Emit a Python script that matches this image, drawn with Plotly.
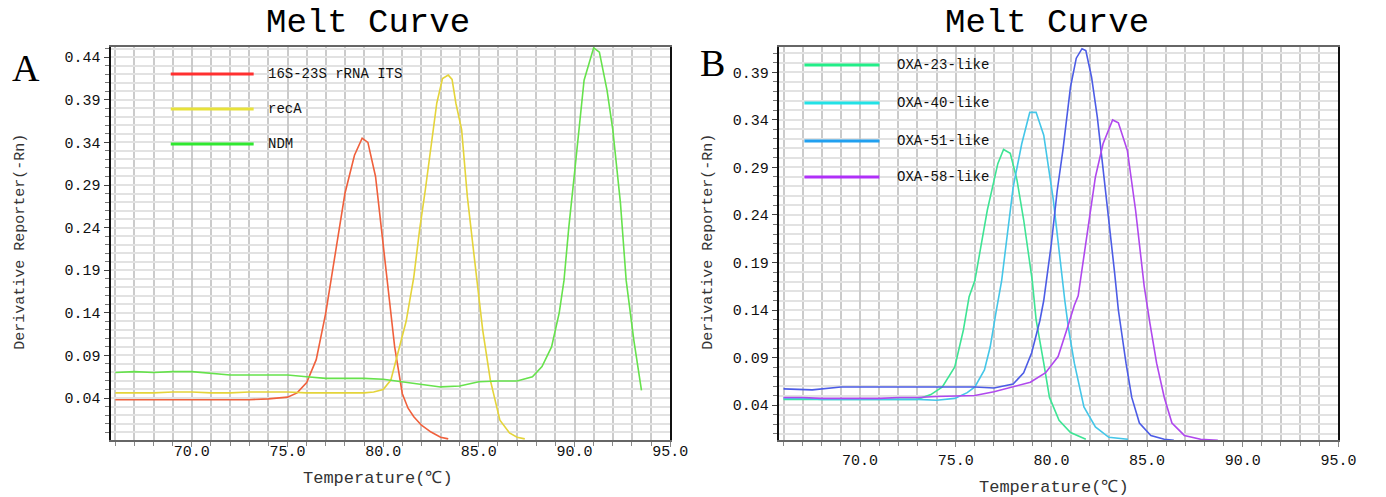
import plotly.graph_objects as go

# ---------------- Panel A data ----------------
a_its_t = [66, 67, 68, 69, 70, 71, 72, 73, 74, 75, 75.5, 76, 76.5, 77, 77.5, 78, 78.5, 78.9, 79.2, 79.6,
           80, 80.3, 80.6, 81, 81.3, 81.6, 82, 82.5, 83, 83.4]
a_its_v = [0.038, 0.038, 0.038, 0.038, 0.038, 0.038, 0.038, 0.038, 0.039, 0.041, 0.046, 0.058, 0.085, 0.14,
           0.21, 0.28, 0.325, 0.345, 0.34, 0.30, 0.22, 0.16, 0.10, 0.045, 0.028, 0.018, 0.008, 0.0, -0.006, -0.008]

a_reca_t = [66, 67, 68, 69, 70, 71, 72, 73, 74, 75, 76, 77, 78, 79, 79.5, 80, 80.4, 80.8, 81.2, 81.6, 81.9,
            82.2, 82.5, 82.8, 83.1, 83.4, 83.6, 83.8, 84.1, 84.4, 84.7, 85.0, 85.2, 85.6, 86.1, 86.6, 87.0, 87.4]
a_reca_v = [0.046, 0.046, 0.046, 0.047, 0.047, 0.046, 0.046, 0.047, 0.047, 0.047, 0.046, 0.046, 0.046, 0.046,
            0.047, 0.050, 0.061, 0.096, 0.13, 0.182, 0.237, 0.284, 0.335, 0.386, 0.415, 0.419, 0.414, 0.386,
            0.355, 0.276, 0.217, 0.16, 0.12, 0.061, 0.014, -0.001, -0.006, -0.008]

a_ndm_t = [66, 67, 68, 69, 70, 71, 72, 73, 74, 75, 76, 77, 78, 79, 80, 81, 82, 83, 84, 85, 86, 87, 87.8,
           88.3, 88.8, 89.2, 89.45, 89.7, 90.0, 90.5, 91.0, 91.3, 91.7, 92.0, 92.4, 92.7, 93.1, 93.5]
a_ndm_v = [0.070, 0.071, 0.070, 0.071, 0.071, 0.069, 0.067, 0.067, 0.067, 0.067, 0.065, 0.063, 0.063, 0.063,
           0.062, 0.059, 0.056, 0.053, 0.054, 0.059, 0.060, 0.060, 0.065, 0.077, 0.10, 0.14, 0.178, 0.24,
           0.304, 0.413, 0.451, 0.446, 0.401, 0.355, 0.269, 0.178, 0.108, 0.049]

# ---------------- Panel B data ----------------
b_oxa23_t = [66, 67, 68, 69, 70, 71, 72, 73, 73.7, 74.3, 74.95, 75.4, 75.7, 76.0, 76.65, 77.2, 77.5, 77.85,
             78.2, 78.55, 79.0, 79.2, 79.6, 79.9, 80.4, 81.0, 81.8]
b_oxa23_v = [0.046, 0.046, 0.046, 0.046, 0.046, 0.046, 0.046, 0.046, 0.051, 0.059, 0.080, 0.119, 0.154,
             0.171, 0.245, 0.294, 0.309, 0.305, 0.277, 0.235, 0.171, 0.13, 0.084, 0.048, 0.024, 0.011, 0.004]

b_oxa40_t = [66, 67, 68, 69, 70, 71, 72, 73, 74, 74.95, 75.6, 76.0, 76.5, 76.8, 77.1, 77.4, 78.0, 78.45,
             78.87, 79.2, 79.6, 80.1, 80.7, 80.9, 81.2, 81.7, 82.3, 83.0, 84.0]
b_oxa40_v = [0.047, 0.047, 0.046, 0.046, 0.046, 0.046, 0.046, 0.046, 0.045, 0.047, 0.053, 0.059, 0.077,
             0.101, 0.137, 0.171, 0.269, 0.315, 0.348, 0.348, 0.324, 0.256, 0.15, 0.12, 0.084, 0.038,
             0.017, 0.006, 0.004]

b_oxa51_t = [66, 67, 67.5, 69, 70, 71, 72, 73, 74, 75, 76, 77, 78.0, 78.55, 78.97, 79.4, 79.6, 80.0, 80.3,
             80.6, 81.0, 81.3, 81.6, 81.8, 82.1, 82.4, 82.6, 83.0, 83.3, 83.5, 83.9, 84.2, 84.6, 85.2, 85.9, 86.4]
b_oxa51_v = [0.057, 0.056, 0.056, 0.059, 0.059, 0.059, 0.059, 0.059, 0.059, 0.059, 0.059, 0.058, 0.062,
             0.074, 0.095, 0.129, 0.15, 0.21, 0.265, 0.308, 0.375, 0.405, 0.415, 0.413, 0.385, 0.343, 0.308,
             0.235, 0.18, 0.14, 0.084, 0.048, 0.021, 0.008, 0.004, 0.003]

b_oxa58_t = [66, 67, 68, 69, 70, 71, 72, 73, 74, 75, 76, 77, 78, 78.9, 79.7, 80.35, 80.8, 81.2, 81.4,
             81.9, 82.3, 82.7, 83.2, 83.5, 83.97, 84.4, 84.85, 85.15, 85.5, 85.9, 86.3, 86.95, 87.8, 88.7]
b_oxa58_v = [0.048, 0.048, 0.047, 0.047, 0.047, 0.047, 0.048, 0.048, 0.049, 0.0495, 0.050, 0.054, 0.059,
             0.064, 0.074, 0.091, 0.119, 0.145, 0.155, 0.225, 0.28, 0.315, 0.34, 0.337, 0.308, 0.245, 0.165,
             0.126, 0.084, 0.048, 0.021, 0.008, 0.004, 0.003]

x_tick_vals = [70, 75, 80, 85, 90, 95]
x_tick_text = ["70.0", "75.0", "80.0", "85.0", "90.0", "95.0"]
a_y_ticks = [0.04, 0.09, 0.14, 0.19, 0.24, 0.29, 0.34, 0.39, 0.44]
b_y_ticks = [0.04, 0.09, 0.14, 0.19, 0.24, 0.29, 0.34, 0.39]

a_series = [("16S-23S rRNA ITS", a_its_t, a_its_v, "#f0603c", "#ff3030"),
            ("recA", a_reca_t, a_reca_v, "#e4d43a", "#e8e23a"),
            ("NDM", a_ndm_t, a_ndm_v, "#66e24c", "#30e830")]
b_series = [("OXA-23-like", b_oxa23_t, b_oxa23_v, "#3ee494", "#22ee88"),
            ("OXA-40-like", b_oxa40_t, b_oxa40_v, "#44c6e8", "#22e2e6"),
            ("OXA-51-like", b_oxa51_t, b_oxa51_v, "#4c5ce6", "#20a0f0"),
            ("OXA-58-like", b_oxa58_t, b_oxa58_v, "#b048ee", "#b030f8")]

W, H = 1386, 497
MONO = "Liberation Mono"

fig = go.Figure()
for name, t, v, col, _ in a_series:
    fig.add_trace(go.Scatter(x=t, y=v, mode="lines", name=name, line=dict(color=col, width=1.6),
                             xaxis="x", yaxis="y", showlegend=False))
for name, t, v, col, _ in b_series:
    fig.add_trace(go.Scatter(x=t, y=v, mode="lines", name=name, line=dict(color=col, width=1.6),
                             xaxis="x2", yaxis="y2", showlegend=False))


def xaxis(domain, anchor, standoff):
    return dict(domain=domain, anchor=anchor, range=[65.75, 95], tickvals=x_tick_vals, ticktext=x_tick_text,
                showgrid=True, gridcolor="#cbcbcb", gridwidth=2, zeroline=False,
                ticks="outside", ticklen=5, tickcolor="#888", ticklabelstandoff=standoff,
                minor=dict(dtick=1, tick0=66, showgrid=True, gridcolor="#cbcbcb", gridwidth=2,
                           ticks="outside", ticklen=4, tickcolor="#888"),
                showline=True, linecolor="#666", linewidth=2, mirror=True,
                tickfont=dict(family=MONO, size=15, color="#111"))


def yaxis(domain, anchor, rng, ticks):
    return dict(domain=domain, anchor=anchor, range=rng, tickvals=ticks,
                ticktext=["%.2f" % t for t in ticks],
                showgrid=True, gridcolor="#e2e2e2", gridwidth=2, zeroline=False,
                ticks="outside", ticklen=5, tickcolor="#444",
                minor=dict(dtick=0.01, tick0=0.04, showgrid=True, gridcolor="#e2e2e2", gridwidth=2,
                           ticks="outside", ticklen=4, tickcolor="#777"),
                showline=True, linecolor="#111", linewidth=2, mirror=True,
                tickfont=dict(family=MONO, size=15, color="#111"))


ydom = [1 - 440 / H, 1 - 47 / H]
fig.update_layout(
    width=W, height=H, margin=dict(l=0, r=0, t=0, b=0),
    paper_bgcolor="white", plot_bgcolor="white", showlegend=False,
    xaxis=xaxis([112 / W, 679 / W], "y", -9),
    yaxis=yaxis(ydom, "x", [-0.0093, 0.452], a_y_ticks),
    xaxis2=xaxis([789 / W, 1356 / W], "y2", 0),
    yaxis2=yaxis(ydom, "x2", [0.0032, 0.4168], b_y_ticks),
)

ann = []
shapes = []


def px(x):
    return x / W


def py(y):
    return 1 - y / H


# titles
for cx in (373, 1061):
    ann.append(dict(text="Melt Curve", x=px(cx), y=py(23), xref="paper", yref="paper", showarrow=False,
                    xanchor="center", yanchor="middle", font=dict(family=MONO, size=34, color="#000")))
# panel letters
ann.append(dict(text="A", x=px(26), y=py(68), xref="paper", yref="paper", showarrow=False,
                xanchor="center", yanchor="middle", font=dict(family="Liberation Serif", size=38, color="#000")))
ann.append(dict(text="B", x=px(722), y=py(63), xref="paper", yref="paper", showarrow=False,
                xanchor="center", yanchor="middle", font=dict(family="Liberation Serif", size=38, color="#000")))
# axis titles
for cx, cy in [(383, 478), (1068, 487)]:
    ann.append(dict(text="Temperature(℃)", x=px(cx), y=py(cy), xref="paper", yref="paper", showarrow=False,
                    xanchor="center", yanchor="middle", font=dict(family=MONO, size=17, color="#333")))
for cx, cy in [(20, 242), (717, 242)]:
    ann.append(dict(text="Derivative Reporter(-Rn)", x=px(cx), y=py(cy), xref="paper", yref="paper",
                    showarrow=False, textangle=-90, xanchor="center", yanchor="middle",
                    font=dict(family=MONO, size=15, color="#333")))

# legends
a_leg_y = [74, 109, 144]
for (name, _, _, _, lc), ly in zip(a_series, a_leg_y):
    shapes.append(dict(type="line", xref="paper", yref="paper", x0=px(173), x1=px(257), y0=py(ly), y1=py(ly),
                       line=dict(color=lc, width=3)))
    ann.append(dict(text=name, x=px(270), y=py(ly), xref="paper", yref="paper", showarrow=False,
                    xanchor="left", yanchor="middle", font=dict(family=MONO, size=14, color="#111")))
b_leg_y = [65, 103, 141, 177]
for (name, _, _, _, lc), ly in zip(b_series, b_leg_y):
    shapes.append(dict(type="line", xref="paper", yref="paper", x0=px(815), x1=px(891), y0=py(ly), y1=py(ly),
                       line=dict(color=lc, width=3)))
    ann.append(dict(text=name, x=px(907), y=py(ly), xref="paper", yref="paper", showarrow=False,
                    xanchor="left", yanchor="middle", font=dict(family=MONO, size=14, color="#111")))

fig.update_layout(annotations=ann, shapes=shapes)
fig.write_html("out.html", config={"displayModeBar": False},
               post_script="document.body.style.margin='0';document.body.style.overflow='hidden';")
